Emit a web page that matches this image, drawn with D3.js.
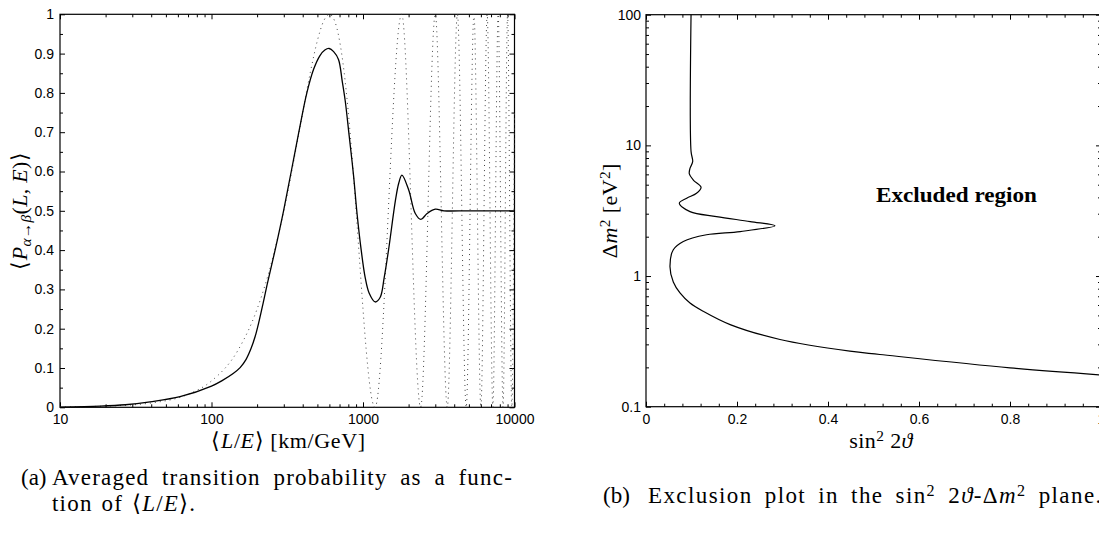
<!DOCTYPE html>
<html>
<head>
<meta charset="utf-8">
<script src="https://cdn.jsdelivr.net/npm/d3@7"></script>
<style>
body { margin: 0; background: #fff; }
svg { display: block; }
.tick text { font-family: "Liberation Sans", Arial, sans-serif; font-size: 14px; fill: #000; }
.tick line { stroke: #000; stroke-width: 1; }
</style>
</head>
<body>
<svg id="chart" width="1099" height="538"></svg>
<script>
const SERIF = '"Liberation Serif", "Times New Roman", serif';

// (a) averaged transition probability vs <L/E> [km/GeV]
const leSolid = [10, 18.4, 27, 39.3, 62, 100, 117.5, 139, 154.5, 169.2, 182.6, 194.1, 206.3, 219.2, 232.9, 264.7, 299, 336, 377, 426, 472, 520, 560, 598,
  640, 689, 729, 763, 811, 866, 915, 973, 1034, 1099, 1202, 1299, 1380, 1474, 1638, 1721, 1806, 2003, 2214, 2410, 2648, 3000, 3419, 5000, 10000];
const pSolid = [0.0007, 0.003, 0.0065, 0.014, 0.027, 0.054, 0.068, 0.086, 0.101, 0.122, 0.15, 0.18, 0.22, 0.265, 0.312, 0.405, 0.5, 0.6, 0.7, 0.8, 0.86, 0.895, 0.909, 0.913,
  0.905, 0.885, 0.83, 0.78, 0.69, 0.59, 0.49, 0.4, 0.33, 0.29, 0.268, 0.28, 0.33, 0.4, 0.527, 0.57, 0.591, 0.553, 0.493, 0.478, 0.493, 0.504, 0.5, 0.5, 0.5];

// unaveraged probability (dotted): first lobe, then the extrema of the fast oscillations
const leDotted = [10, 20, 40, 70, 100, 150, 200, 250, 300, 350, 400, 450, 500, 550, 600, 650, 700, 750, 800, 850, 900, 950, 1000, 1050, 1100, 1150, 1200,
  1800, 2400, 3000, 3600, 4200, 4800, 5400, 6000, 6600, 7200, 7800, 8400, 9000, 9600, 10000];
const pDotted = [0.001, 0.003, 0.011, 0.033, 0.067, 0.146, 0.25, 0.371, 0.5, 0.629, 0.75, 0.854, 0.933, 0.983, 1, 0.983, 0.933, 0.854, 0.75, 0.629, 0.5, 0.371, 0.25, 0.146, 0.067, 0.017, 0,
  1, 0, 1, 0, 1, 0, 1, 0, 1, 0, 1, 0, 1, 0, 0.75];

const leTicks = [10, 100, 1000, 10000];
const pTicks = [0, 0.1, 0.2, 0.3, 0.4, 0.5, 0.6, 0.7, 0.8, 0.9, 1];

// (b) exclusion contour in the sin^2 2theta - dm^2 plane
const s2tContour = [0.099, 0.099, 0.1026, 0.0967, 0.0952, 0.104, 0.121, 0.111, 0.0895, 0.0732, 0.0967, 0.155, 0.229, 0.2835,
  0.207, 0.133, 0.082, 0.060, 0.0527, 0.060, 0.0747, 0.0967, 0.126, 0.185, 0.2945, 0.448, 0.514, 0.80, 1.0];
const dm2Contour = [100, 9.0, 7.5, 6.67, 6.04, 5.43, 4.78, 4.30, 3.94, 3.61, 3.11, 2.85, 2.61, 2.43,
  2.19, 2.07, 1.84, 1.59, 1.18, 0.90, 0.742, 0.622, 0.537, 0.425, 0.327, 0.266, 0.251, 0.198, 0.175];

const s2tTicks = [0, 0.2, 0.4, 0.6, 0.8, 1];
const dm2Ticks = [0.1, 1, 10, 100];

const svg = d3.select('#chart');
svg.append('rect').attr('width', 1099).attr('height', 538).attr('fill', '#fff');

// Scales
const xL = d3.scaleLog().domain([10, 10000]).range([60, 514.5]);
const yL = d3.scaleLinear().domain([0, 1]).range([407.3, 14.3]);
const xR = d3.scaleLinear().domain([0, 1]).range([646, 1101]);
const yR = d3.scaleLog().domain([0.1, 100]).range([406.7, 14.7]);

// Box with inward ticks on all four sides
function boxAxes(x, y, xMajor, xMinor, yMajor, yMinor, fmtX, fmtY, padY) {
    const [x0, x1] = x.range();
    const [y0, y1] = y.range();
    const g = svg.append('g');
    const noDomain = s => s.select('.domain').remove();

    // minor ticks
    g.append('g').attr('transform', `translate(0,${y0})`)
        .call(d3.axisBottom(x).tickValues(xMinor).tickSize(-3).tickFormat('')).call(noDomain);
    g.append('g').attr('transform', `translate(0,${y1})`)
        .call(d3.axisTop(x).tickValues(xMinor).tickSize(-3).tickFormat('')).call(noDomain);
    g.append('g').attr('transform', `translate(${x0},0)`)
        .call(d3.axisLeft(y).tickValues(yMinor).tickSize(-3).tickFormat('')).call(noDomain);
    g.append('g').attr('transform', `translate(${x1},0)`)
        .call(d3.axisRight(y).tickValues(yMinor).tickSize(-3).tickFormat('')).call(noDomain);

    // major ticks with labels
    g.append('g').attr('transform', `translate(0,${y0})`)
        .call(d3.axisBottom(x).tickValues(xMajor).tickSizeInner(-5).tickSizeOuter(0).tickPadding(7).tickFormat(fmtX)).call(noDomain);
    g.append('g').attr('transform', `translate(0,${y1})`)
        .call(d3.axisTop(x).tickValues(xMajor).tickSize(-5).tickFormat('')).call(noDomain);
    g.append('g').attr('transform', `translate(${x0},0)`)
        .call(d3.axisLeft(y).tickValues(yMajor).tickSizeInner(-5).tickSizeOuter(0).tickPadding(padY).tickFormat(fmtY)).call(noDomain);
    g.append('g').attr('transform', `translate(${x1},0)`)
        .call(d3.axisRight(y).tickValues(yMajor).tickSize(-5).tickFormat('')).call(noDomain);

    g.append('rect')
        .attr('x', x0).attr('y', y1)
        .attr('width', x1 - x0).attr('height', y0 - y1)
        .attr('fill', 'none').attr('stroke', '#000').attr('stroke-width', 1.2);
}

// minor tick positions
const leMinor = xL.ticks().filter(d => !leTicks.includes(d));
const pMinor = yL.ticks(20).filter(d => Math.round(d * 20) % 2 === 1);
const s2tMinor = d3.range(26).map(i => i / 25).filter(d => Math.round(d * 25) % 5 !== 0);
const dm2Minor = yR.ticks().filter(d => !dm2Ticks.includes(d));

boxAxes(xL, yL, leTicks, leMinor, pTicks, pMinor, d3.format('d'), d3.format('~g'), 6);
boxAxes(xR, yR, s2tTicks, s2tMinor, dm2Ticks, dm2Minor, d3.format('~g'), d3.format('~g'), 5);

// Panel (a) curves
const dottedData = leDotted.map((d, i) => [d, pDotted[i]]);
const solidData = leSolid.map((d, i) => [d, pSolid[i]]);

svg.append('path')
    .datum(dottedData)
    .attr('d', d3.line().x(d => xL(d[0])).y(d => yL(d[1])).curve(d3.curveMonotoneX))
    .attr('fill', 'none')
    .attr('stroke', '#444')
    .attr('stroke-width', 1)
    .attr('stroke-dasharray', '1 4');

svg.append('path')
    .datum(solidData)
    .attr('d', d3.line().x(d => xL(d[0])).y(d => yL(d[1])).curve(d3.curveCatmullRom.alpha(0.5)))
    .attr('fill', 'none')
    .attr('stroke', '#000')
    .attr('stroke-width', 1.3);

// Panel (b) contour
const contourData = s2tContour.map((d, i) => [d, dm2Contour[i]]);
svg.append('path')
    .datum(contourData)
    .attr('d', d3.line().x(d => xR(d[0])).y(d => yR(d[1])).curve(d3.curveCatmullRom.alpha(0.5)))
    .attr('fill', 'none')
    .attr('stroke', '#000')
    .attr('stroke-width', 1.2);

// Text helpers: parts are [text, style] pairs
function serifText(x, y, size) {
    return svg.append('text')
        .attr('x', x).attr('y', y)
        .attr('font-family', SERIF)
        .attr('font-size', size)
        .attr('fill', '#000');
}
function richText(sel, parts, size) {
    parts.forEach(([t, kind]) => {
        const ts = sel.append('tspan').text(t);
        if (kind === 'i') ts.attr('font-style', 'italic');
        if (kind === 'sup') ts.attr('font-size', size * 0.7).attr('baseline-shift', '45%');
        if (kind === 'sub') ts.attr('font-size', size * 0.7).attr('font-style', 'italic').attr('baseline-shift', '-25%');
    });
    return sel;
}

// Axis titles
const labSize = 22;
richText(serifText(288.5, 447.5, labSize).attr('text-anchor', 'middle').attr('letter-spacing', 0.6),
    [['⟨', ''], ['L', 'i'], ['/', ''], ['E', 'i'], ['⟩ [km/GeV]', '']], labSize);

richText(serifText(0, 0, labSize).attr('transform', 'translate(27,210.8) rotate(-90)')
    .attr('text-anchor', 'middle').attr('letter-spacing', 0.3),
    [['⟨', ''], ['P', 'i'], ['α→β', 'sub'], ['(', ''], ['L', 'i'], [', ', ''], ['E', 'i'], [')⟩', '']], labSize);

richText(serifText(881, 447.5, labSize).attr('text-anchor', 'middle').attr('letter-spacing', 0.4),
    [['sin', ''], ['2', 'sup'], [' 2', ''], ['ϑ', 'i']], labSize);

richText(serifText(0, 0, labSize).attr('transform', 'translate(617,210.7) rotate(-90)')
    .attr('text-anchor', 'middle').attr('letter-spacing', 0.4),
    [['Δ', ''], ['m', 'i'], ['2', 'sup'], [' [eV', ''], ['2', 'sup'], [']', '']], labSize);

serifText(956.5, 202, 20)
    .attr('text-anchor', 'middle')
    .attr('font-weight', 'bold')
    .attr('textLength', 161).attr('lengthAdjust', 'spacingAndGlyphs')
    .text('Excluded region');

// Captions
const capSize = 23;
serifText(21, 485, capSize).text('(a)');
const capA1 = serifText(52, 485, capSize).attr('letter-spacing', 1.2)
    .text('Averaged transition probability as a func-');
richText(serifText(52, 510.5, capSize).attr('letter-spacing', 1.2).attr('word-spacing', 2),
    [['tion of ⟨', ''], ['L', 'i'], ['/', ''], ['E', 'i'], ['⟩.', '']], capSize);

serifText(603, 503, capSize).text('(b)');
richText(serifText(648, 503, capSize).attr('letter-spacing', 1.4).attr('word-spacing', 5),
    [['Exclusion plot in the sin', ''], ['2', 'sup'], [' 2', ''], ['ϑ', 'i'], ['-Δ', ''], ['m', 'i'], ['2', 'sup'], [' plane.', '']], capSize);

// justify the first caption line so it ends at the column edge
const natural = capA1.node().getBBox().width;
capA1.attr('word-spacing', Math.max(-2, (461 - natural) / 5));
</script>
</body>
</html>
